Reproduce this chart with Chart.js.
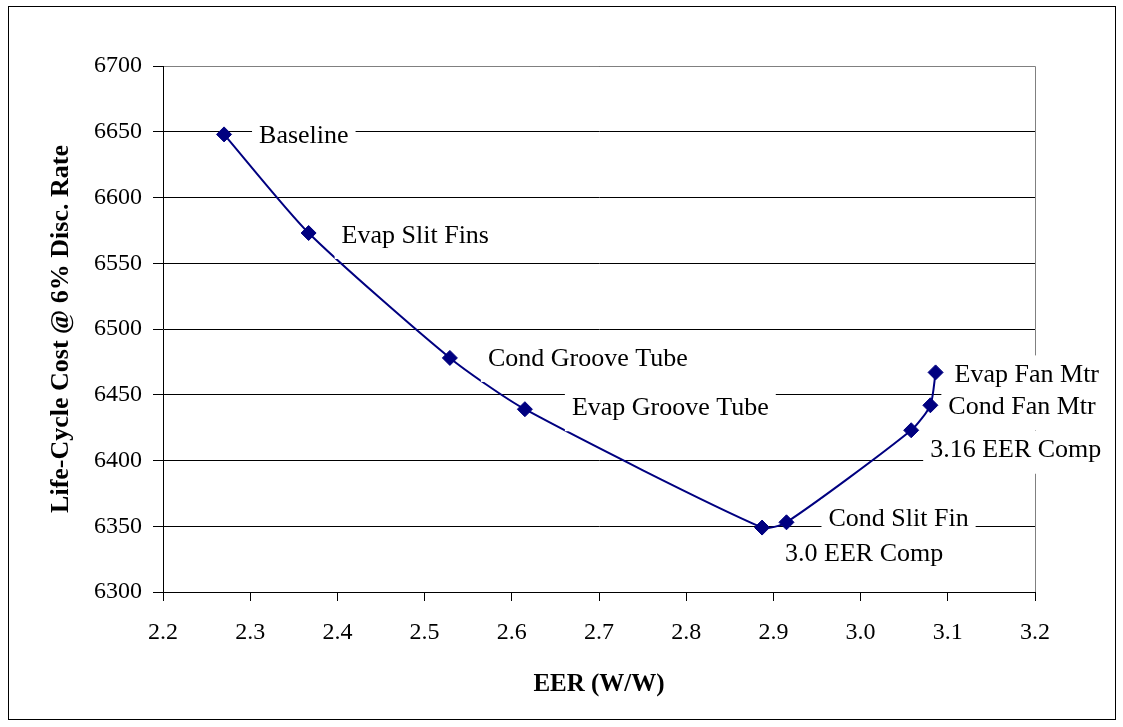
<!DOCTYPE html>
<html>
<head>
<meta charset="utf-8">
<script src="https://cdn.jsdelivr.net/npm/chart.js@4/dist/chart.umd.min.js"></script>
<style>
  html, body { margin: 0; padding: 0; background: #fff; }
  #wrap { width: 1123px; height: 727px; }
</style>
</head>
<body>
<div id="wrap"><canvas id="c" width="1123" height="727"></canvas></div>
<script>
// ---- data ----
const names = ['Baseline', 'Evap Slit Fins', 'Cond Groove Tube', 'Evap Groove Tube',
  '3.0 EER Comp', 'Cond Slit Fin', '3.16 EER Comp', 'Cond Fan Mtr', 'Evap Fan Mtr'];
const eer = [2.270, 2.367, 2.529, 2.615, 2.887, 2.915, 3.058, 3.080, 3.086];
const lcc = [6648, 6573, 6478, 6439, 6349, 6353, 6423, 6442, 6467];
const xTickValues = [2.2, 2.3, 2.4, 2.5, 2.6, 2.7, 2.8, 2.9, 3.0, 3.1, 3.2];
const yTickValues = [6300, 6350, 6400, 6450, 6500, 6550, 6600, 6650, 6700];
const xTitle = 'EER (W/W)';
const yTitle = 'Life-Cycle Cost @ 6% Disc. Rate';

// label placement relative to each point: [dx to text left, dy to text cap-centre]
const labelOffsets = [[35, 0], [33, 1], [38, -1], [47, -3], [23, 25], [42, -5], [19, 18.5], [18, 0], [19, 1]];

const SERIF = '"Liberation Serif", "Times New Roman", serif';

const frame = {
  id: 'frame',
  beforeDraw(chart) {
    const ctx = chart.ctx;
    ctx.save();
    ctx.fillStyle = '#fff';
    ctx.fillRect(0, 0, chart.width, chart.height);
    ctx.strokeStyle = '#000';
    ctx.lineWidth = 1;
    ctx.strokeRect(8.5, 6.5, 1107, 713);
    ctx.restore();
  },
  beforeDatasetsDraw(chart) {
    const a = chart.chartArea;
    const ctx = chart.ctx;
    ctx.save();
    ctx.strokeStyle = '#808080';
    ctx.lineWidth = 1;
    const r = Math.round(a.right) + 0.5, t = Math.round(a.top) + 0.5;
    ctx.beginPath();
    ctx.moveTo(Math.round(a.left) + 1, t);
    ctx.lineTo(r, t);
    ctx.lineTo(r, Math.round(a.bottom));
    ctx.stroke();
    ctx.restore();
  }
};

const pointLabels = {
  id: 'pointLabels',
  afterDatasetsDraw(chart) {
    const ctx = chart.ctx;
    const meta = chart.getDatasetMeta(0);
    const size = 26;
    ctx.save();
    ctx.font = size + 'px ' + SERIF;
    ctx.textAlign = 'left';
    ctx.textBaseline = 'alphabetic';
    for (let i = names.length - 1; i >= 0; i--) {
      const el = meta.data[i];
      const tx = el.x + labelOffsets[i][0];
      const cy = el.y + labelOffsets[i][1];
      const w = ctx.measureText(names[i]).width;
      ctx.fillStyle = '#fff';
      ctx.fillRect(tx - 7, cy - 18, w + 14, 43);
      ctx.fillStyle = '#000';
      ctx.fillText(names[i], tx, cy + size * 0.331);
    }
    ctx.restore();
  }
};

const points = eer.map((x, i) => ({ x: x, y: lcc[i] }));

new Chart(document.getElementById('c'), {
  type: 'scatter',
  data: {
    datasets: [{
      data: points,
      showLine: true,
      tension: 0.22,
      borderColor: '#000080',
      borderWidth: 2,
      backgroundColor: '#000080',
      pointStyle: 'rectRot',
      pointRadius: 7.5,
      pointBorderWidth: 1,
      pointBorderColor: '#000080',
      pointBackgroundColor: '#000080',
      clip: false
    }]
  },
  options: {
    responsive: false,
    animation: false,
    devicePixelRatio: 1,
    layout: { padding: { left: 10, right: 88, top: 66, bottom: 10 } },
    plugins: { legend: { display: false }, tooltip: { enabled: false } },
    scales: {
      x: {
        type: 'linear',
        min: 2.2, max: 3.2,
        afterBuildTicks(s) { s.ticks = xTickValues.map(v => ({ value: v })); },
        afterFit(s) { s.height = 125; },
        ticks: {
          color: '#000',
          font: { family: SERIF, size: 24 },
          padding: 17,
          maxRotation: 0,
          autoSkip: false,
          callback: v => Number(v).toFixed(1)
        },
        grid: { drawOnChartArea: false, drawTicks: true, tickLength: 9, color: '#000', lineWidth: 1 },
        border: { display: true, color: '#000', width: 1 },
        title: {
          display: true, text: xTitle, color: '#000',
          font: { family: SERIF, size: 25, weight: 'bold' },
          padding: { top: 0, bottom: 17 }
        }
      },
      y: {
        type: 'linear',
        min: 6300, max: 6700,
        afterBuildTicks(s) { s.ticks = yTickValues.map(v => ({ value: v })); },
        afterFit(s) { s.width = 153; },
        ticks: {
          color: '#000',
          font: { family: SERIF, size: 24 },
          padding: 11,
          autoSkip: false,
          callback: v => String(v)
        },
        grid: { drawOnChartArea: true, drawTicks: true, tickLength: 10, color: '#000', lineWidth: 1 },
        border: { display: true, color: '#000', width: 1 },
        title: {
          display: true, text: yTitle, color: '#000',
          font: { family: SERIF, size: 26, weight: 'bold' },
          padding: { top: 36, bottom: 0 }
        }
      }
    }
  },
  plugins: [frame, pointLabels]
});
</script>
</body>
</html>
